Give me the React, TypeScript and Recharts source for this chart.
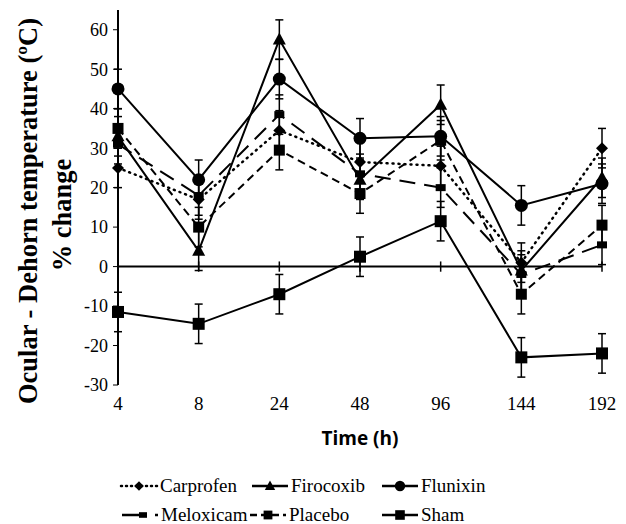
import { CartesianGrid, ErrorBar, Legend, Line, LineChart, ReferenceLine, XAxis, YAxis } from "recharts";

if (typeof document !== "undefined") document.body.style.margin = "0";

const times = ["4", "8", "24", "48", "96", "144", "192"];
const carprofen = [25, 17, 34.5, 26.5, 25.5, 1, 30];
const firocoxib = [33, 4, 57.5, 22, 41, -1, 22.5];
const flunixin = [45, 22, 47.5, 32.5, 33, 15.5, 21];
const meloxicam = [31, 18, 38.5, 23.5, 20, -2, 5.5];
const placebo = [35, 10, 29.5, 18.5, 32, -7, 10.5];
const sham = [-11.5, -14.5, -7, 2.5, 11.5, -23, -22];
const errCarprofen = [5, 5, 5, 5, 5, 5, 5];
const errFirocoxib = [5, 5, 5, 5, 5, 5, 5];
const errFlunixin = [5, 5, 5, 5, 5, 5, 5];
const errMeloxicam = [5, 5, 5, 5, 5, 5, 5];
const errPlacebo = [5, 5, 5, 5, 5, 5, 5];
const errSham = [5, 5, 5, 5, 5, 5, 5];
const yTicks = [-30, -20, -10, 0, 10, 20, 30, 40, 50, 60];

const data = times.map((time, i) => ({
  time,
  carprofen: carprofen[i],
  firocoxib: firocoxib[i],
  flunixin: flunixin[i],
  meloxicam: meloxicam[i],
  placebo: placebo[i],
  sham: sham[i],
  eCarprofen: errCarprofen[i],
  eFirocoxib: errFirocoxib[i],
  eFlunixin: errFlunixin[i],
  eMeloxicam: errMeloxicam[i],
  ePlacebo: errPlacebo[i],
  eSham: errSham[i],
}));

const serif = "Liberation Serif, DejaVu Serif, serif";

type Shape = "diamond" | "triangle" | "circle" | "bar" | "square" | "bigsquare";

function marker(shape: Shape, cx: number, cy: number, key?: string | number, s = 1) {
  switch (shape) {
    case "diamond":
      return <path key={key} d={`M${cx},${cy - 6 * s}L${cx + 6 * s},${cy}L${cx},${cy + 6 * s}L${cx - 6 * s},${cy}Z`} fill="#000" />;
    case "triangle":
      return <path key={key} d={`M${cx},${cy - 7 * s}L${cx + 6.5 * s},${cy + 5 * s}L${cx - 6.5 * s},${cy + 5 * s}Z`} fill="#000" />;
    case "circle":
      return <circle key={key} cx={cx} cy={cy} r={6.5 * s} fill="#000" />;
    case "bar":
      return <rect key={key} x={cx - 5 * s} y={cy - 3.5 * s} width={10 * s} height={7 * s} fill="#000" />;
    case "square":
      return <rect key={key} x={cx - 5.5 * s} y={cy - 5.5 * s} width={11 * s} height={11 * s} fill="#000" />;
    default:
      return <rect key={key} x={cx - 6 * s} y={cy - 6 * s} width={12 * s} height={12 * s} fill="#000" />;
  }
}

const dotFor = (shape: Shape) => (props: any) => marker(shape, props.cx, props.cy, props.index);

const legendItems: { name: string; dash?: string; shape: Shape; x: number; row: number }[] = [
  { name: "Carprofen", dash: "1 4", shape: "diamond", x: 121, row: 0 },
  { name: "Firocoxib", shape: "triangle", x: 252, row: 0 },
  { name: "Flunixin", shape: "circle", x: 382, row: 0 },
  { name: "Meloxicam", dash: "20 13", shape: "bar", x: 122, row: 1 },
  { name: "Placebo", dash: "7 4", shape: "square", x: 250, row: 1 },
  { name: "Sham", shape: "bigsquare", x: 382, row: 1 },
];

function ChartLegend() {
  return (
    <svg width={626} height={54}>
      {legendItems.map((item) => {
        const cy = 16 + item.row * 29;
        return (
          <g key={item.name}>
            <line
              x1={item.x}
              x2={item.x + 36}
              y1={cy}
              y2={cy}
              stroke="#000"
              strokeWidth={2.5}
              strokeDasharray={item.dash}
              strokeLinecap={item.dash === "1 4" ? "round" : "butt"}
            />
            {marker(item.shape, item.x + (item.shape === "bar" ? 21 : 18), cy, undefined, 0.8)}
            <text x={item.x + 39} y={cy + 6} style={{ fontFamily: serif }} fontSize={19} fill="#000">
              {item.name}
            </text>
          </g>
        );
      })}
    </svg>
  );
}

function YLabel() {
  return (
    <g style={{ fontFamily: serif }}>
      <text transform="translate(37,211) rotate(-90)" textAnchor="middle" fontWeight="bold" fontSize={26.5} fill="#000">
        Ocular - Dehorn temperature (ºC)
      </text>
      <text transform="translate(71,215) rotate(-90)" textAnchor="middle" fontWeight="bold" fontSize={26.5} fill="#000">
        % change
      </text>
    </g>
  );
}

export default function App() {
  const lineProps = { stroke: "#000", strokeWidth: 2, isAnimationActive: false, activeDot: false as const };
  return (
    <div style={{ width: 626, height: 524, background: "#fff" }}>
      <LineChart width={626} height={524} data={data} margin={{ top: 10, right: 24, bottom: 55, left: 0 }}>
        <CartesianGrid stroke="none" />
        <XAxis
          dataKey="time"
          axisLine={false}
          tickLine={false}
          tickSize={0}
          tickMargin={12}
          height={30}
          tick={{ fill: "#000", fontSize: 19, style: { fontFamily: serif } }}
          label={{
            value: "Time (h)",
            position: "bottom",
            offset: 17,
            style: { fill: "#000", fontSize: 19, fontWeight: "bold", fontFamily: "Open Sans, sans-serif" },
          }}
        />
        <YAxis
          domain={[-30, 65]}
          ticks={yTicks}
          width={118}
          axisLine={{ stroke: "#000", strokeWidth: 2 }}
          tickLine={{ stroke: "#000" }}
          tickSize={5}
          tickMargin={5}
          tick={{ fill: "#000", fontSize: 18, style: { fontFamily: serif } }}
          label={<YLabel />}
        />
        <ReferenceLine y={0} stroke="#000" strokeWidth={2} />
        {times.map((t) => (
          <ReferenceLine
            key={t}
            segment={[
              { x: t, y: -1.3 },
              { x: t, y: 1.3 },
            ]}
            stroke="#000"
            strokeWidth={1.5}
          />
        ))}
        <Line dataKey="carprofen" {...lineProps} strokeDasharray="1 5" strokeLinecap="round" strokeWidth={2.5} dot={dotFor("diamond")}>
          <ErrorBar dataKey="eCarprofen" direction="y" width={4} stroke="#000" strokeWidth={1.5} />
        </Line>
        <Line dataKey="firocoxib" {...lineProps} dot={dotFor("triangle")}>
          <ErrorBar dataKey="eFirocoxib" direction="y" width={4} stroke="#000" strokeWidth={1.5} />
        </Line>
        <Line dataKey="flunixin" {...lineProps} dot={dotFor("circle")}>
          <ErrorBar dataKey="eFlunixin" direction="y" width={4} stroke="#000" strokeWidth={1.5} />
        </Line>
        <Line dataKey="meloxicam" {...lineProps} strokeDasharray="16 9" dot={dotFor("bar")}>
          <ErrorBar dataKey="eMeloxicam" direction="y" width={4} stroke="#000" strokeWidth={1.5} />
        </Line>
        <Line dataKey="placebo" {...lineProps} strokeDasharray="8 5" dot={dotFor("square")}>
          <ErrorBar dataKey="ePlacebo" direction="y" width={4} stroke="#000" strokeWidth={1.5} />
        </Line>
        <Line dataKey="sham" {...lineProps} dot={dotFor("bigsquare")}>
          <ErrorBar dataKey="eSham" direction="y" width={4} stroke="#000" strokeWidth={1.5} />
        </Line>
        <Legend
          content={<ChartLegend />}
          wrapperStyle={{ position: "absolute", top: 470, left: 0, width: 626, height: 54 }}
        />
      </LineChart>
    </div>
  );
}
